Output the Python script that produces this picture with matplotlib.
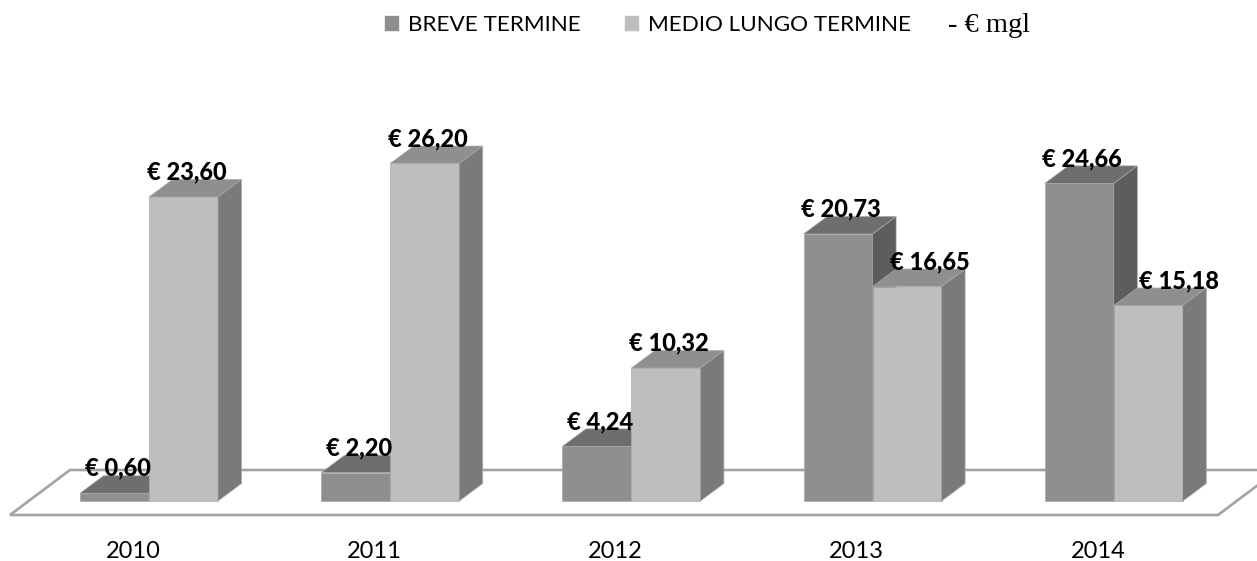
import matplotlib
matplotlib.use('Agg')
import matplotlib.pyplot as plt
from matplotlib.patches import Polygon, Patch

years = ['2010', '2011', '2012', '2013', '2014']
breve = [0.60, 2.20, 4.24, 20.73, 24.66]
medio = [23.60, 26.20, 10.32, 16.65, 15.18]
breve_labels = ['€ 0,60', '€ 2,20', '€ 4,24', '€ 20,73', '€ 24,66']
medio_labels = ['€ 23,60', '€ 26,20', '€ 10,32', '€ 16,65', '€ 15,18']

W, H = 1257, 561
PX_X = 241.2   # pixels per group
PX_Y = 12.88   # pixels per euro
X0, Y0 = 149, 501  # pixel of the first group centre / baseline
BOTTOM = 530

BAR_W = 69 / PX_X
DX = 23.5 / PX_X
DY = 17.5 / PX_Y

fig = plt.figure(figsize=(W / 100, H / 100), dpi=100)
ax = fig.add_axes([0, (H - BOTTOM) / H, 1, BOTTOM / H])
ax.set_xlim(-X0 / PX_X, (W - X0) / PX_X)
ax.set_ylim((Y0 - BOTTOM) / PX_Y, Y0 / PX_Y)
for s in ax.spines.values():
    s.set_visible(False)
ax.set_yticks([])
ax.set_xticks([i - 16 / PX_X for i in range(len(years))])
ax.set_xticklabels(years, family='Lato', fontsize=17, color='black')
ax.tick_params(axis='x', length=0, pad=8)


def px(x, y):
    return ((x - X0) / PX_X, (Y0 - y) / PX_Y)


# floor
floor = Polygon([px(10, 515), px(1218, 515), px(1278, 470), px(70, 470)],
                closed=True, facecolor='white', edgecolor='#a3a3a3', linewidth=1.9, zorder=1)
ax.add_patch(floor)


def bar3d(x, value, front, top, side, z):
    ax.bar(x, value, width=BAR_W, align='edge', color=front, edgecolor='#a9a9a9', linewidth=0.5, zorder=z)
    ax.add_patch(Polygon([(x, value), (x + BAR_W, value), (x + BAR_W + DX, value + DY), (x + DX, value + DY)],
                         closed=True, facecolor=top, edgecolor='#a9a9a9', linewidth=0.5, zorder=z))
    ax.add_patch(Polygon([(x + BAR_W, 0), (x + BAR_W + DX, DY), (x + BAR_W + DX, value + DY), (x + BAR_W, value)],
                         closed=True, facecolor=side, edgecolor='#a9a9a9', linewidth=0.5, zorder=z))


z = 2
for i in range(len(years)):
    bar3d(i - BAR_W, breve[i], '#8f8f8f', '#6e6e6e', '#5d5d5d', z)
    bar3d(i, medio[i], '#bebebe', '#8f8f8f', '#7a7a7a', z + 1)
    z += 2

# value labels go on top of everything; the last two light ones are pushed right as in the original
nudge = {3: 20, 4: 28}
for i in range(len(years)):
    for x, v, lab, shift in [(i - BAR_W / 2, breve[i], breve_labels[i], 0),
                             (i + BAR_W / 2, medio[i], medio_labels[i], nudge.get(i, 0))]:
        ax.annotate(lab, (x, v), xytext=((3 + shift) * 0.72, 25 * 0.72), textcoords='offset points',
                    ha='center', va='center', family='Lato', fontweight=900, fontsize=17,
                    color='black', zorder=50)

# legend
handles = [Patch(color='#8f8f8f', label='BREVE TERMINE'), Patch(color='#bebebe', label='MEDIO LUNGO TERMINE')]
fig.legend(handles=handles, loc='center left', bbox_to_anchor=(385 / W, 1 - 25 / H), ncol=2, frameon=False,
           prop={'family': 'Lato', 'size': 16.2}, handlelength=0.58, handleheight=0.62, handletextpad=0.45,
           columnspacing=1.95, borderpad=0, borderaxespad=0)
fig.text(948 / W, 1 - 26 / H, '- € mgl', family='Liberation Serif', fontsize=20.5, va='center', ha='left')

fig.savefig('out.png', dpi=100)
